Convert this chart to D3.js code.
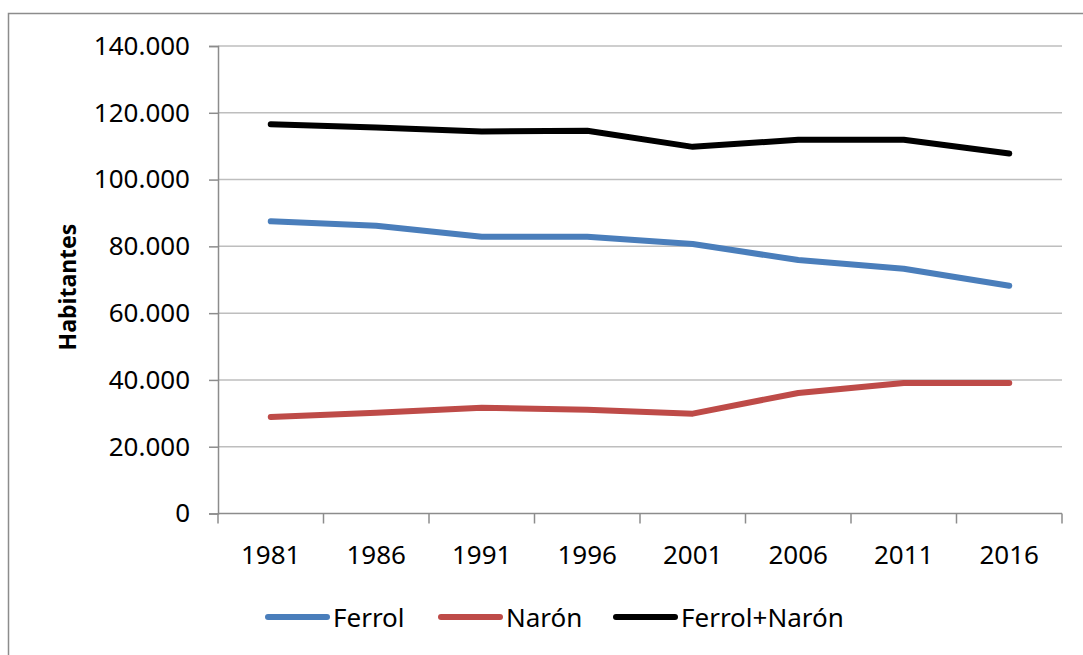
<!DOCTYPE html>
<html>
<head>
<meta charset="utf-8">
<script src="https://cdn.jsdelivr.net/npm/d3@7"></script>
<style>
  body { margin: 0; background: #fff; }
  svg { display: block; font-family: "Noto Sans", "Open Sans", sans-serif; }
</style>
</head>
<body>
<svg id="chart" width="1083" height="655"></svg>
<script>
// data
var years = ["1981", "1986", "1991", "1996", "2001", "2006", "2011", "2016"];
var ferrol = [87500, 86200, 82900, 82900, 80700, 75900, 73300, 68200];
var naron = [28900, 30200, 31700, 31100, 29900, 36100, 39100, 39100];
var total = [116600, 115600, 114400, 114600, 109800, 111900, 111900, 107800];
var yTicks = [0, 20000, 40000, 60000, 80000, 100000, 120000, 140000];

var series = [
  { name: "Ferrol", values: ferrol, color: "#4a7ebb" },
  { name: "Narón", values: naron, color: "#be4b48" },
  { name: "Ferrol+Narón", values: total, color: "#000000" }
];

var svg = d3.select("#chart");
var plotL = 218, plotR = 1062, plotT = 46, plotB = 513.5;

// outer frame
svg.append("rect")
    .attr("x", 8.5).attr("y", 13.5)
    .attr("width", 1200).attr("height", 800)
    .attr("fill", "none").attr("stroke", "#8c8c8c").attr("stroke-width", 1.5);

var x = d3.scaleBand().domain(years).range([plotL, plotR]);
var y = d3.scaleLinear().domain([0, 140000]).range([plotB, plotT]);

var loc = d3.formatLocale({ decimal: ",", thousands: ".", grouping: [3], currency: ["", ""] });
var fmt = loc.format(",d");

// gridlines
svg.append("g")
  .selectAll("line")
  .data(yTicks.filter(function(d) { return d > 0; }))
  .join("line")
    .attr("x1", plotL).attr("x2", plotR)
    .attr("y1", function(d) { return y(d); })
    .attr("y2", function(d) { return y(d); })
    .attr("stroke", "#bebebe").attr("stroke-width", 1.5);

// y axis
var yAxis = svg.append("g")
    .attr("transform", "translate(" + plotL + ",0)")
    .call(d3.axisLeft(y).tickValues(yTicks).tickFormat(fmt).tickSize(9).tickPadding(19));
yAxis.select(".domain").attr("stroke", "#8c8c8c").attr("stroke-width", 1.5);
yAxis.selectAll(".tick line").attr("stroke", "#8c8c8c").attr("stroke-width", 1.5);
yAxis.selectAll("text").attr("font-size", 26).attr("fill", "#000").attr("font-family", "Noto Sans");

// x axis, ticks between categories
var xAxis = svg.append("g").attr("transform", "translate(0," + plotB + ")");
xAxis.append("line")
    .attr("x1", plotL).attr("x2", plotR)
    .attr("stroke", "#8c8c8c").attr("stroke-width", 1.5);
var edges = years.map(function(d) { return x(d); }).concat([plotR]);
xAxis.selectAll(".xt")
  .data(edges)
  .join("line")
    .attr("class", "xt")
    .attr("x1", function(d) { return d; }).attr("x2", function(d) { return d; })
    .attr("y1", 0).attr("y2", 10)
    .attr("stroke", "#8c8c8c").attr("stroke-width", 1.5);
xAxis.selectAll("text")
  .data(years)
  .join("text")
    .attr("x", function(d) { return x(d) + x.bandwidth() / 2; })
    .attr("y", 50)
    .attr("text-anchor", "middle")
    .attr("font-size", 26)
    .text(function(d) { return d; });

// axis title
svg.append("text")
    .attr("transform", "translate(76,287) rotate(-90)")
    .attr("text-anchor", "middle")
    .attr("font-size", 23)
    .attr("font-weight", "bold")
    .text("Habitantes");

// lines
var line = d3.line()
    .x(function(d, i) { return x(years[i]) + x.bandwidth() / 2; })
    .y(function(d) { return y(d); });

svg.append("g")
  .selectAll("path")
  .data(series)
  .join("path")
    .attr("d", function(d) { return line(d.values); })
    .attr("fill", "none")
    .attr("stroke", function(d) { return d.color; })
    .attr("stroke-width", 6)
    .attr("stroke-linecap", "round")
    .attr("stroke-linejoin", "round");

// legend
var legendX = [268, 441, 616];
var legend = svg.append("g").selectAll("g")
  .data(series)
  .join("g")
    .attr("transform", function(d, i) { return "translate(" + legendX[i] + ",617)"; });
legend.append("line")
    .attr("x1", 0).attr("x2", 59)
    .attr("stroke", function(d) { return d.color; })
    .attr("stroke-width", 6)
    .attr("stroke-linecap", "round");
legend.append("text")
    .attr("x", 65).attr("y", 10)
    .attr("font-size", 26)
    .text(function(d) { return d.name; });
</script>
</body>
</html>
